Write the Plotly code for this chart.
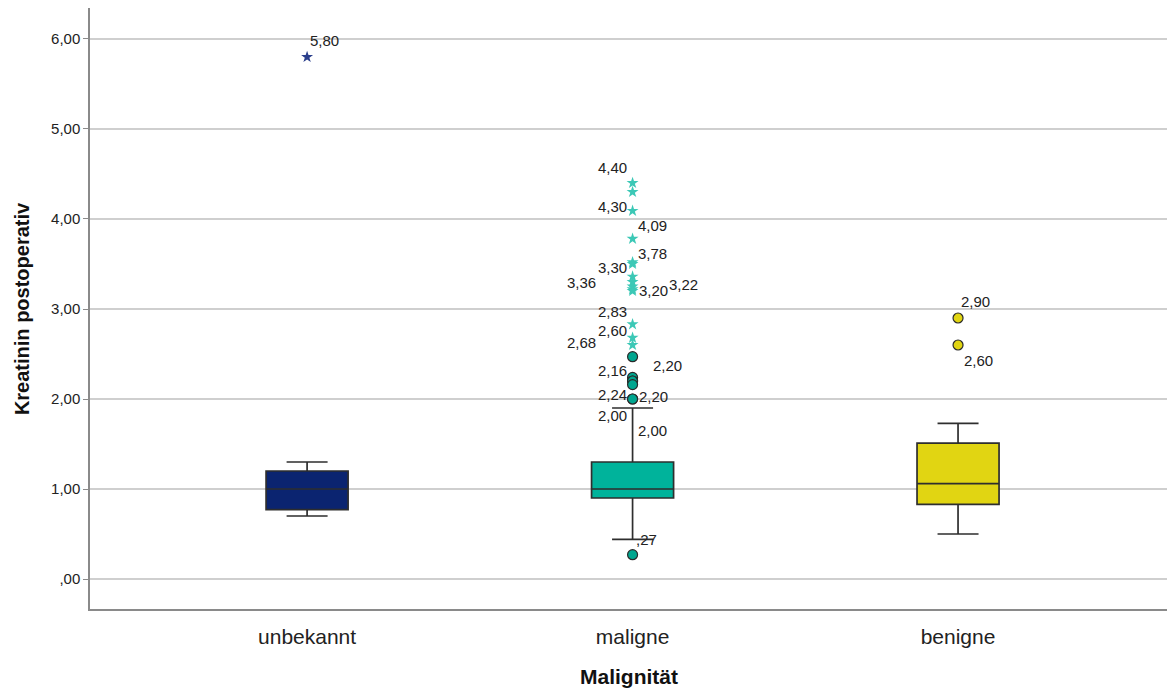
import plotly.graph_objects as go

# Box statistics per malignancy group (Kreatinin postoperativ)
categories = ["unbekannt", "maligne", "benigne"]
lower_whisker = [0.70, 0.44, 0.50]
q1_values = [0.77, 0.90, 0.83]
median_values = [1.00, 1.00, 1.06]
q3_values = [1.20, 1.30, 1.51]
upper_whisker = [1.30, 1.90, 1.73]

# Extreme values (stars) and outliers (circles)
unbekannt_extremes = [5.80]
maligne_extremes = [4.40, 4.30, 4.09, 3.78, 3.52, 3.50, 3.36, 3.30, 3.25, 3.22, 3.20, 2.83, 2.68, 2.60]
maligne_outliers = [2.47, 2.24, 2.20, 2.20, 2.16, 2.00, 2.00, 0.27]
benigne_outliers = [2.90, 2.60]

# Value labels: (group, value, text)
point_labels = [
    ("unbekannt", 5.80, "5,80"),
    ("maligne", 4.40, "4,40"),
    ("maligne", 4.30, "4,30"),
    ("maligne", 4.09, "4,09"),
    ("maligne", 3.78, "3,78"),
    ("maligne", 3.30, "3,30"),
    ("maligne", 3.36, "3,36"),
    ("maligne", 3.20, "3,20"),
    ("maligne", 3.22, "3,22"),
    ("maligne", 2.83, "2,83"),
    ("maligne", 2.60, "2,60"),
    ("maligne", 2.68, "2,68"),
    ("maligne", 2.20, "2,20"),
    ("maligne", 2.16, "2,16"),
    ("maligne", 2.24, "2,24"),
    ("maligne", 2.20, "2,20"),
    ("maligne", 2.00, "2,00"),
    ("maligne", 2.00, "2,00"),
    ("maligne", 0.27, ",27"),
    ("benigne", 2.90, "2,90"),
    ("benigne", 2.60, "2,60"),
]
# pixel offsets of each label from its point (same order as point_labels)
label_offsets = [
    (17, 16), (-20, 15), (-20, -15), (20, -15), (20, -15), (-20, 14),
    (-51, -6), (21, 0), (51, 5), (-20, 13), (-20, 15), (-51, -5),
    (35, 16), (-20, 14), (-20, -17), (21, -15), (-20, -16), (20, -31),
    (14, 15), (17, 17), (20, -15),
]

y_ticks = [0, 1, 2, 3, 4, 5, 6]
y_tick_text = [",00", "1,00", "2,00", "3,00", "4,00", "5,00", "6,00"]

box_fill = ["#0b2470", "#00b39b", "#e1d512"]
FONT = "Liberation Sans, Arial, sans-serif"

fig = go.Figure()

for i, cat in enumerate(categories):
    fig.add_trace(go.Box(
        x=[cat],
        q1=[q1_values[i]],
        median=[median_values[i]],
        q3=[q3_values[i]],
        lowerfence=[lower_whisker[i]],
        upperfence=[upper_whisker[i]],
        fillcolor=box_fill[i],
        line=dict(color="#2e2e2e", width=1.7),
        width=0.252,
        whiskerwidth=0.5,
        boxpoints=False,
        hoverinfo="skip",
        showlegend=False,
    ))

fig.add_trace(go.Scatter(
    x=["unbekannt"] * len(unbekannt_extremes), y=unbekannt_extremes,
    mode="markers",
    marker=dict(symbol="star", size=9, color="#2b3f8c", line=dict(width=0)),
    showlegend=False,
))
fig.add_trace(go.Scatter(
    x=["maligne"] * len(maligne_extremes), y=maligne_extremes,
    mode="markers",
    marker=dict(symbol="star", size=9, color="#3cc8b6", line=dict(width=0)),
    showlegend=False,
))
fig.add_trace(go.Scatter(
    x=["maligne"] * len(maligne_outliers), y=maligne_outliers,
    mode="markers",
    marker=dict(symbol="circle", size=10, color="#00a68f",
                line=dict(color="#2a2a2a", width=1.2)),
    showlegend=False,
))
fig.add_trace(go.Scatter(
    x=["benigne"] * len(benigne_outliers), y=benigne_outliers,
    mode="markers",
    marker=dict(symbol="circle", size=10, color="#e1d512",
                line=dict(color="#2a2a2a", width=1.2)),
    showlegend=False,
))

for (cat, val, txt), (dx, dy) in zip(point_labels, label_offsets):
    fig.add_annotation(
        x=cat, y=val, text=txt, showarrow=False,
        xshift=dx, yshift=dy,
        font=dict(family=FONT, size=15, color="#222222"),
    )

# axis titles
fig.add_annotation(
    xref="paper", yref="paper", x=0.5, y=-0.112, yanchor="middle",
    text="<b>Malignität</b>", showarrow=False,
    font=dict(family=FONT, size=21, color="#111111"),
)
fig.add_annotation(
    xref="paper", yref="paper", x=-0.0635, y=0.5, xanchor="center",
    text="<b>Kreatinin postoperativ</b>", showarrow=False, textangle=-90,
    font=dict(family=FONT, size=20, color="#111111"),
)

fig.update_layout(
    width=1167, height=691,
    margin=dict(l=90, r=0, t=8, b=82),
    paper_bgcolor="white", plot_bgcolor="white",
    font=dict(family=FONT, color="#222222"),
    xaxis=dict(
        type="category", categoryorder="array", categoryarray=categories,
        range=[-0.667, 2.642],
        showline=True, linecolor="#8a8a8a", linewidth=1.5,
        showgrid=False, zeroline=False, ticks="",
        tickfont=dict(family=FONT, size=21, color="#222222"),
        ticklabelstandoff=8,
    ),
    yaxis=dict(
        range=[-0.333, 6.344],
        tickvals=y_ticks, ticktext=y_tick_text,
        showline=True, linecolor="#8a8a8a", linewidth=1.5,
        showgrid=True, gridcolor="#cfcfcf", gridwidth=1.5,
        zeroline=False,
        ticks="outside", ticklen=5, tickcolor="#8a8a8a",
        tickfont=dict(family=FONT, size=15, color="#222222"),
    ),
)

fig.write_html("out.html")
